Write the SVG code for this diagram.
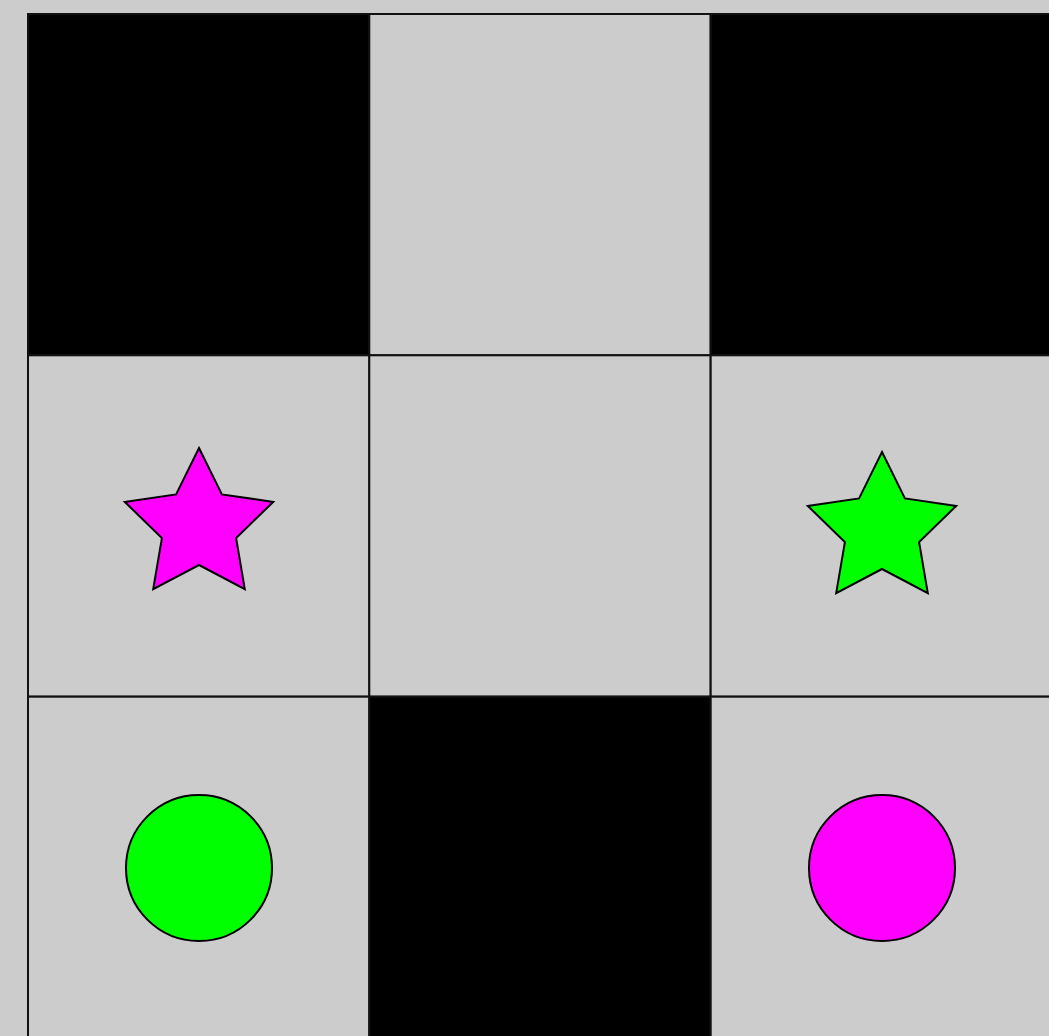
<svg xmlns="http://www.w3.org/2000/svg" width="1049" height="1036" viewBox="0 0 1049 1036">
<style>
.cell{stroke:#111;stroke-width:2}
.dark{fill:#000}
.light{fill:#cccccc}
.shape{stroke:#000;stroke-width:2}
</style>
<defs>
<polygon id="star" points="0,-78 22.9,-31.6 74.2,-24.1 37.1,12.1 45.8,63.1 0,39 -45.8,63.1 -37.1,12.1 -74.2,-24.1 -22.9,-31.6"/>
</defs>
<rect width="1049" height="1036" fill="#cccccc"/>
<g id="grid">
<rect id="c00" class="cell dark" x="28" y="14" width="341.3" height="341.3"/>
<rect id="c01" class="cell light" x="369.3" y="14" width="341.3" height="341.3"/>
<rect id="c02" class="cell dark" x="710.7" y="14" width="341.3" height="341.3"/>
<rect id="c10" class="cell light" x="28" y="355.3" width="341.3" height="341.3"/>
<rect id="c11" class="cell light" x="369.3" y="355.3" width="341.3" height="341.3"/>
<rect id="c12" class="cell light" x="710.7" y="355.3" width="341.3" height="341.3"/>
<rect id="c20" class="cell light" x="28" y="696.7" width="341.3" height="341.3"/>
<rect id="c21" class="cell dark" x="369.3" y="696.7" width="341.3" height="341.3"/>
<rect id="c22" class="cell light" x="710.7" y="696.7" width="341.3" height="341.3"/>
</g>
<g id="magenta-star"><use href="#star" class="shape" fill="#ff00ff" x="199" y="526"/></g>
<g id="green-star"><use href="#star" class="shape" fill="#00ff00" x="882" y="530"/></g>
<g id="green-circle"><circle class="shape" fill="#00ff00" cx="199" cy="868" r="73"/></g>
<g id="magenta-circle"><circle class="shape" fill="#ff00ff" cx="882" cy="868" r="73"/></g>
<g id="connectors"/>
</svg>
